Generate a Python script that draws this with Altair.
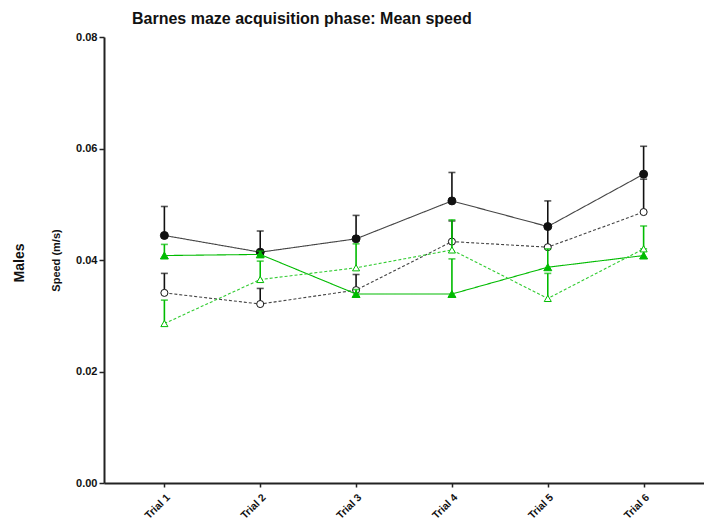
import altair as alt
import pandas as pd

trials = ["Trial 1", "Trial 2", "Trial 3", "Trial 4", "Trial 5", "Trial 6"]

# Group means and SEM of speed (m/s) per acquisition trial
grp_a_mean = [0.0444, 0.0414, 0.0438, 0.0506, 0.0460, 0.0554]
grp_a_sem = [0.0052, 0.0038, 0.0042, 0.0051, 0.0046, 0.0050]
grp_b_mean = [0.0341, 0.0321, 0.0346, 0.0433, 0.0423, 0.0486]
grp_b_sem = [0.0035, 0.0028, 0.0028, 0.0037, 0.0035, 0.0059]
grp_c_mean = [0.0408, 0.0410, 0.0339, 0.0339, 0.0387, 0.0408]
grp_c_sem = [0.0020, 0.0006, 0.0008, 0.0063, 0.0033, 0.0012]
grp_d_mean = [0.0286, 0.0365, 0.0386, 0.0418, 0.0331, 0.0420]
grp_d_sem = [0.0042, 0.0033, 0.0043, 0.0054, 0.0045, 0.0041]

FONT = "Liberation Sans"
BLACK = "#111111"
LINE_GREY = "#444444"
GREEN = "#00bb00"
GREEN_LIGHT = "#33cc33"

series = [
    # name, means, sems, line colour, dash, marker shape, filled, marker colour
    ("A", grp_a_mean, grp_a_sem, LINE_GREY, [], "circle", True, BLACK),
    ("B", grp_b_mean, grp_b_sem, LINE_GREY, [3, 2], "circle", False, BLACK),
    ("C", grp_c_mean, grp_c_sem, GREEN, [], "triangle-up", True, GREEN),
    ("D", grp_d_mean, grp_d_sem, GREEN_LIGHT, [3, 2], "triangle-up", False, GREEN),
]

x_scale = alt.Scale(type="point", domain=trials, padding=0.63)
y_scale = alt.Scale(domain=[0, 0.08], nice=False, zero=True)

x_enc = alt.X(
    "trial:N",
    scale=x_scale,
    sort=trials,
    axis=alt.Axis(
        title=None,
        labelAngle=-45,
        labelAlign="right",
        labelBaseline="top",
        labelFont=FONT,
        labelFontSize=10.5,
        labelFontWeight="bold",
        labelColor=BLACK,
        labelPadding=5,
        tickSize=4,
        tickColor="#222222",
        tickWidth=1.5,
        domainColor="#222222",
        domainWidth=2,
        grid=False,
    ),
)
y_axis = alt.Axis(
    title="Speed (m/s)",
    titleFont=FONT,
    titleFontSize=11,
    titleFontWeight="bold",
    titleColor=BLACK,
    titlePadding=14,
    values=[0, 0.02, 0.04, 0.06, 0.08],
    format=".2f",
    labelFont=FONT,
    labelFontSize=11,
    labelFontWeight="bold",
    labelColor=BLACK,
    labelPadding=2,
    tickSize=5,
    tickColor="#222222",
    tickWidth=1.5,
    domainColor="#222222",
    domainWidth=2,
    grid=False,
)
y_enc = alt.Y("mean:Q", scale=y_scale, axis=y_axis)
y_top = alt.Y("top:Q", scale=y_scale, axis=y_axis)

layers = []
for name, means, sems, lcol, dash, shape, filled, mcol in series:
    df = pd.DataFrame({
        "trial": trials,
        "mean": means,
        "top": [m + s for m, s in zip(means, sems)],
    })
    base = alt.Chart(df)
    errbar = base.mark_rule(color=mcol, strokeWidth=1.6).encode(
        x=x_enc, y=y_enc, y2="top:Q"
    )
    cap = base.mark_tick(color=mcol, thickness=1.6, size=7).encode(
        x=x_enc, y=y_top
    )
    line = base.mark_line(color=lcol, strokeWidth=1.1, strokeDash=dash or [1, 0]).encode(
        x=x_enc, y=y_enc
    )
    pts = base.mark_point(
        shape=shape,
        filled=filled,
        fill=mcol if filled else "white",
        stroke=mcol,
        strokeWidth=1.0,
        opacity=1,
        size=64 if filled else 50,
    ).encode(x=x_enc, y=y_enc)
    layers += [errbar, cap, line, pts]

side_label = alt.Chart(pd.DataFrame({"t": ["Males"]})).mark_text(
    text="Males",
    angle=270,
    font=FONT,
    fontSize=14,
    fontWeight="bold",
    color=BLACK,
    align="center",
    baseline="middle",
).encode(x=alt.value(-84), y=alt.value(226))

chart = (
    alt.layer(*layers, side_label)
    .properties(
        width=600,
        height=446,
        background="white",
        autosize=alt.AutoSizeParams(type="none"),
        padding={"left": 104, "top": 37, "right": 0, "bottom": 47},
        title=alt.Title(
            "Barnes maze acquisition phase: Mean speed",
            font=FONT,
            fontSize=16,
            fontWeight="bold",
            color=BLACK,
            anchor="start",
            frame="group",
            dx=28,
            offset=4,
        ),
    )
    .configure_view(strokeWidth=0, stroke="transparent")
)

chart.save("out.html", embed_options={"renderer": "svg", "actions": False})
